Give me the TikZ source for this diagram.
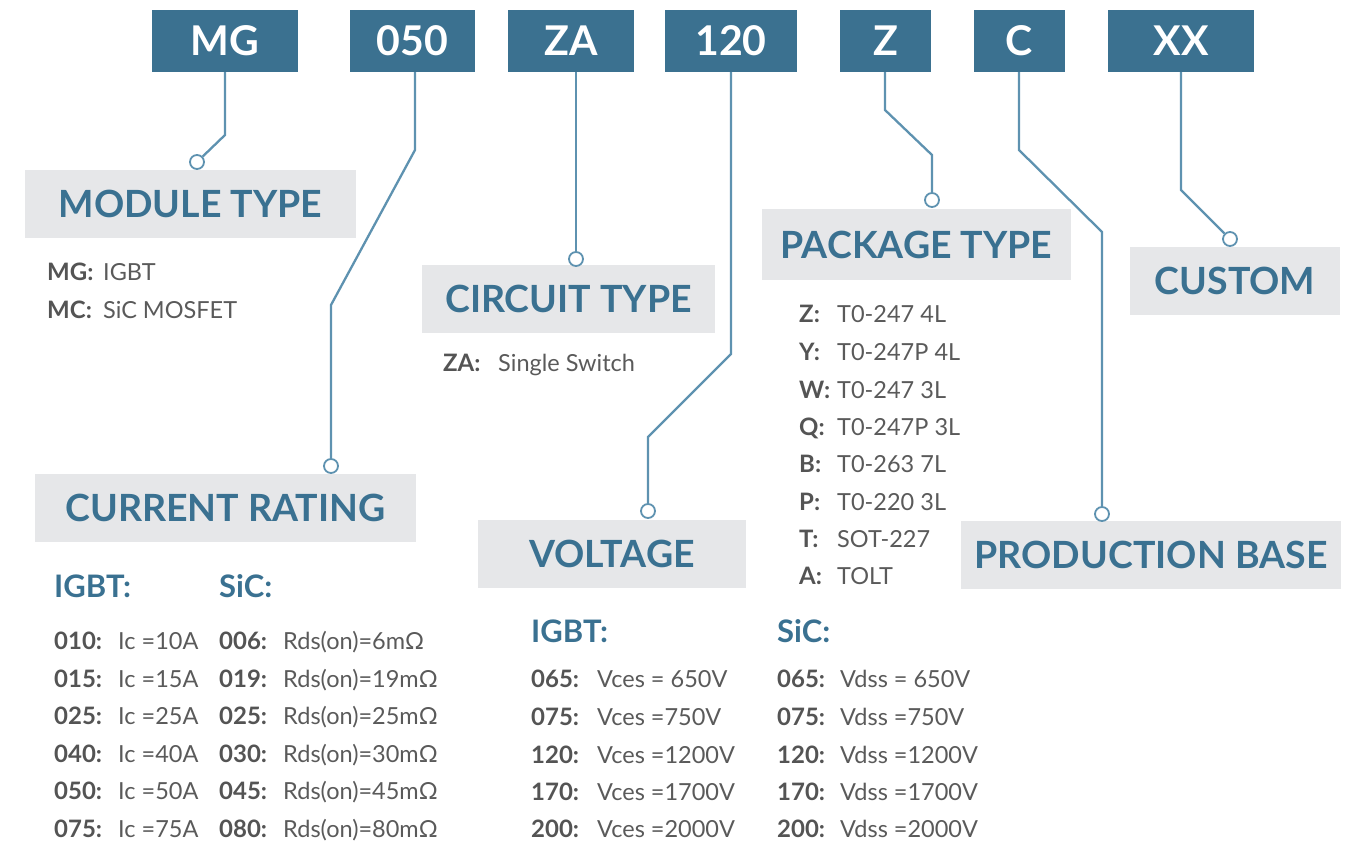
\documentclass[tikz,border=0pt]{standalone}
\usepackage{fontspec}
\setmainfont{Lato}
\definecolor{boxblue}{HTML}{3B7190}
\definecolor{hdrblue}{HTML}{3A7191}
\definecolor{linec}{HTML}{5E92B0}
\definecolor{grayfill}{HTML}{E6E7E9}
\definecolor{txtc}{HTML}{5A5A5A}
\definecolor{codec}{HTML}{545454}
\begin{document}
\begin{tikzpicture}[x=1pt,y=-1pt,
  topbox/.style={fill=boxblue, text=white, font=\bfseries\fontsize{41}{41}\selectfont, inner sep=0, minimum height=62},
  hdrbox/.style={fill=grayfill, text=hdrblue, font=\bfseries\fontsize{37.5}{37.5}\selectfont, inner sep=0, minimum height=68},
  dot/.style={circle, draw=linec, fill=white, line width=1.8pt, minimum size=14pt, inner sep=0},
  conn/.style={draw=linec, line width=2.3pt},
  codet/.style={anchor=base west, font=\bfseries\fontsize{24}{24}\selectfont, text=codec, inner sep=0},
  valt/.style={anchor=base west, font=\fontsize{23.5}{23.5}\selectfont, text=txtc, inner sep=0},
  subt/.style={anchor=base west, font=\bfseries\fontsize{31}{31}\selectfont, text=hdrblue, inner sep=0}]
\useasboundingbox (0,0) rectangle (1368,842);
% top boxes
\node[topbox, minimum width=146] (mg) at (225,41) {MG};
\node[topbox, minimum width=125] (n050) at (412.5,41) {050};
\node[topbox, minimum width=126] (za) at (571,41) {ZA};
\node[topbox, minimum width=132] (n120) at (731,41) {120};
\node[topbox, minimum width=91] (z) at (885.5,41) {Z};
\node[topbox, minimum width=91] (c) at (1019.5,41) {C};
\node[topbox, minimum width=146] (xx) at (1181,41) {XX};
% header boxes
\node[hdrbox, minimum width=331] (hmod) at (190.5,204) {MODULE TYPE};
\node[hdrbox, minimum width=381] (hcur) at (225.5,508) {CURRENT RATING};
\node[hdrbox, minimum width=293] (hcir) at (568.5,299) {CIRCUIT TYPE};
\node[hdrbox, minimum width=268] (hvol) at (612,554) {VOLTAGE};
\node[hdrbox, minimum width=309, minimum height=71] (hpkg) at (916.5,244.5) {PACKAGE TYPE};
\node[hdrbox, minimum width=210] (hcus) at (1235,281) {CUSTOM};
\node[hdrbox, minimum width=380] (hpro) at (1151,555) {PRODUCTION BASE};
% dots
\node[dot] (dmod) at (197,162) {};
\node[dot] (dcur) at (331,466) {};
\node[dot] (dcir) at (576,259) {};
\node[dot] (dvol) at (648,511) {};
\node[dot] (dpkg) at (932,200) {};
\node[dot] (dpro) at (1102,514) {};
\node[dot] (dcus) at (1230,239) {};
% connectors
\draw[conn] (mg.south) -- (225,135) -- (dmod);
\draw[conn] ([xshift=2.5pt]n050.south) -- (415,150) -- (331,305) -- (dcur);
\draw[conn] ([xshift=5pt]za.south) -- (dcir);
\draw[conn] (n120.south) -- (731,354) -- (648,437) -- (dvol);
\draw[conn] ([xshift=-0.5pt]z.south) -- (885,110) -- (932,155) -- (dpkg);
\draw[conn] ([xshift=-0.5pt]c.south) -- (1019,150) -- (1102,232) -- (dpro);
\draw[conn] (xx.south) -- (1181,190) -- (dcus);
% module type
\node[codet] (m1c) at (47,281) {MG:};
\node[valt] (m1v) at (103,281) {IGBT};
\node[codet] (m2c) at (47,319) {MC:};
\node[valt] (m2v) at (103,319) {SiC MOSFET};
% circuit type
\node[codet] (z1c) at (443,371) {ZA:};
\node[valt] (z1v) at (498,371) {Single Switch};
% package type
\foreach \k/\v/\y [count=\i] in {Z/T0-247 4L/323, Y/T0-247P 4L/360, W/T0-247 3L/398, Q/T0-247P 3L/435, B/T0-263 7L/472, P/T0-220 3L/510, T/SOT-227/547, A/TOLT/584}{
  \node[codet] (p\i c) at (799,\y) {\k:};
  \node[valt] (p\i v) at (837,\y) {\v};
}
% current rating
\node[subt] (ci) at (54,597) {IGBT:};
\node[subt] (cs) at (219,597) {SiC:};
\foreach \a/\b/\cc/\d/\y [count=\i] in {010/Ic =10A/006/Rds(on)=6mΩ/649, 015/Ic =15A/019/Rds(on)=19mΩ/687, 025/Ic =25A/025/Rds(on)=25mΩ/724, 040/Ic =40A/030/Rds(on)=30mΩ/762, 050/Ic =50A/045/Rds(on)=45mΩ/799, 075/Ic =75A/080/Rds(on)=80mΩ/837}{
  \node[codet] (ca\i) at (54,\y) {\a:};
  \node[valt] (cb\i) at (118,\y) {\b};
  \node[codet] (cc\i) at (219,\y) {\cc:};
  \node[valt] (cd\i) at (283,\y) {\d};
}
% voltage
\node[subt] (vi) at (531,642) {IGBT:};
\node[subt] (vs) at (777,642) {SiC:};
\foreach \a/\b/\d/\y [count=\i] in {065/Vces = 650V/Vdss = 650V/687, 075/Vces =750V/Vdss =750V/725, 120/Vces =1200V/Vdss =1200V/763, 170/Vces =1700V/Vdss =1700V/800, 200/Vces =2000V/Vdss =2000V/837}{
  \node[codet] (va\i) at (531,\y) {\a:};
  \node[valt] (vb\i) at (597,\y) {\b};
  \node[codet] (vc\i) at (777,\y) {\a:};
  \node[valt] (vd\i) at (840,\y) {\d};
}
\end{tikzpicture}
\end{document}
